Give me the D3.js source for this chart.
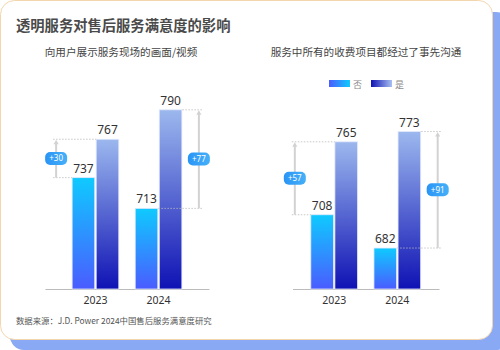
<!DOCTYPE html>
<html>
<head>
<meta charset="utf-8">
<script src="https://cdn.jsdelivr.net/npm/d3@7/dist/d3.min.js"></script>
<style>
html,body{margin:0;padding:0;background:#fff;}
svg{display:block;font-family:"Noto Sans CJK SC","Noto Sans",sans-serif;}
</style>
</head>
<body>
<svg id="c" width="500" height="350"></svg>
<script>
const title = "透明服务对售后服务满意度的影响";
const source = "数据来源：J.D. Power 2024中国售后服务满意度研究";
const years = ["2023", "2024"];
const seriesNames = ["否", "是"];
const chartTitles = ["向用户展示服务现场的画面/视频", "服务中所有的收费项目都经过了事先沟通"];
const chart1No = [737, 713];
const chart1Yes = [767, 790];
const chart2No = [708, 682];
const chart2Yes = [765, 773];

const svg = d3.select("#c");
const defs = svg.append("defs");

// card background
svg.append("rect").attr("x", 10).attr("y", 12).attr("width", 500).attr("height", 338)
  .attr("rx", 14).attr("fill", "#8aa9f4");
svg.append("rect").attr("x", 0.5).attr("y", 0.5).attr("width", 492).attr("height", 339)
  .attr("rx", 14).attr("fill", "#fff").attr("stroke", "#f4d6ae").attr("stroke-width", 1);

function lg(id, x2, y2, stops) {
  const g = defs.append("linearGradient").attr("id", id)
    .attr("x1", 0).attr("y1", 0).attr("x2", x2).attr("y2", y2);
  stops.forEach(s => g.append("stop").attr("offset", s[0]).attr("stop-color", s[1]));
}
lg("gNo", 0, 1, [[0, "#0fcaff"], [1, "#4a5cff"]]);
lg("gYes", 0, 1, [[0, "#9cb8ee"], [1, "#0f12b4"]]);
lg("lNo", 1, 0, [[0, "#4a5cff"], [1, "#0fcaff"]]);
lg("lYes", 1, 0, [[0, "#0f12b4"], [1, "#a8c0f0"]]);
lg("gBadge", 1, 0, [[0, "#2a94f6"], [1, "#45b0f8"]]);

svg.append("text").attr("x", 16).attr("y", 31).text(title)
  .attr("font-size", 14.3).attr("font-weight", "bold").attr("fill", "#4a4a4a");

svg.append("text").attr("x", 16).attr("y", 324).text(source)
  .attr("font-size", 8.4).attr("fill", "#555");

// legend
const legend = svg.append("g");
const legItems = [{n: seriesNames[0], g: "lNo", x: 329}, {n: seriesNames[1], g: "lYes", x: 371}];
legItems.forEach(d => {
  legend.append("rect").attr("x", d.x).attr("y", 80).attr("width", 21).attr("height", 7)
    .attr("fill", `url(#${d.g})`);
  legend.append("text").attr("x", d.x + 24).attr("y", 87.5).text(d.n)
    .attr("font-size", 9).attr("fill", "#888");
});

const y = d3.scaleLinear().domain([650, 800]).range([289, 97]);

const charts = [
  {title: chartTitles[0], no: chart1No, yes: chart1Yes, range: [45, 209], po: 0.43, tx: 121},
  {title: chartTitles[1], no: chart2No, yes: chart2Yes, range: [292.5, 439], po: 0.29, tx: 366}
];

charts.forEach(ch => {
  const g = svg.append("g");
  g.append("text").attr("x", ch.tx).attr("y", 56).attr("text-anchor", "middle")
    .text(ch.title).attr("font-size", 10.6).attr("fill", "#444");

  const x = d3.scaleBand().domain(years).range(ch.range).paddingInner(0.26).paddingOuter(ch.po);
  const xs = d3.scaleBand().domain(seriesNames).range([0, x.bandwidth()]).paddingInner(0.06);

  // axis
  const ax = g.append("g").attr("transform", `translate(0,${y.range()[0]})`)
    .call(d3.axisBottom(x).tickSize(0).tickPadding(8));
  ax.select(".domain").attr("stroke", "#bbb");
  ax.selectAll("text").attr("font-size", 10.5).attr("fill", "#333")
    .attr("font-family", "'Noto Sans',sans-serif");

  const data = years.map((yr, i) => ({yr, vals: [ch.no[i], ch.yes[i]]}));

  data.forEach((d, i) => {
    const gx = x(d.yr);
    d.vals.forEach((v, j) => {
      const bx = gx + xs(seriesNames[j]);
      g.append("rect").attr("x", bx).attr("y", y(v)).attr("width", xs.bandwidth())
        .attr("height", y.range()[0] - y(v))
        .attr("fill", j === 0 ? "url(#gNo)" : "url(#gYes)")
        .attr("stroke", "#e3e9fb").attr("stroke-width", 0.8);
      g.append("text").attr("x", bx + xs.bandwidth() / 2).attr("y", y(v) - 5)
        .attr("text-anchor", "middle").text(v)
        .attr("font-size", 12).attr("fill", "#333")
        .attr("font-family", "'Noto Sans',sans-serif");
    });

    // annotation
    const lo = d.vals[0], hi = d.vals[1];
    const left = i === 0;
    const ax2 = left ? gx - 16 : gx + x.bandwidth() + 17;
    const noEdge = left ? gx + xs(seriesNames[0]) : gx + xs(seriesNames[0]) + xs.bandwidth();
    const yesEdge = left ? gx + xs(seriesNames[1]) : gx + xs(seriesNames[1]) + xs.bandwidth();
    const ext = left ? ax2 - 3 : ax2 + 3;
    [[lo, noEdge], [hi, yesEdge]].forEach(([v, e]) => {
      g.append("line").attr("x1", ext).attr("x2", e).attr("y1", y(v)).attr("y2", y(v))
        .attr("stroke", "#bbb").attr("stroke-width", 0.8).attr("stroke-dasharray", "1.5,1.5");
    });
    g.append("line").attr("x1", ax2).attr("x2", ax2).attr("y1", y(lo)).attr("y2", y(hi) + 4)
      .attr("stroke", "#d2d2d2").attr("stroke-width", 2);
    g.append("path").attr("d", `M${ax2 - 2.5},${y(hi) + 5} L${ax2},${y(hi) + 0.5} L${ax2 + 2.5},${y(hi) + 5} Z`)
      .attr("fill", "#d2d2d2");
    const my = (y(lo) + y(hi)) / 2;
    g.append("rect").attr("x", ax2 - 11).attr("y", my - 6.5).attr("width", 22).attr("height", 13)
      .attr("rx", 5).attr("fill", "url(#gBadge)");
    g.append("text").attr("x", ax2).attr("y", my + 3).attr("text-anchor", "middle")
      .text("+" + (hi - lo)).attr("font-size", 8).attr("fill", "#fff")
      .attr("font-family", "'Noto Sans',sans-serif");
  });
});
</script>
</body>
</html>
